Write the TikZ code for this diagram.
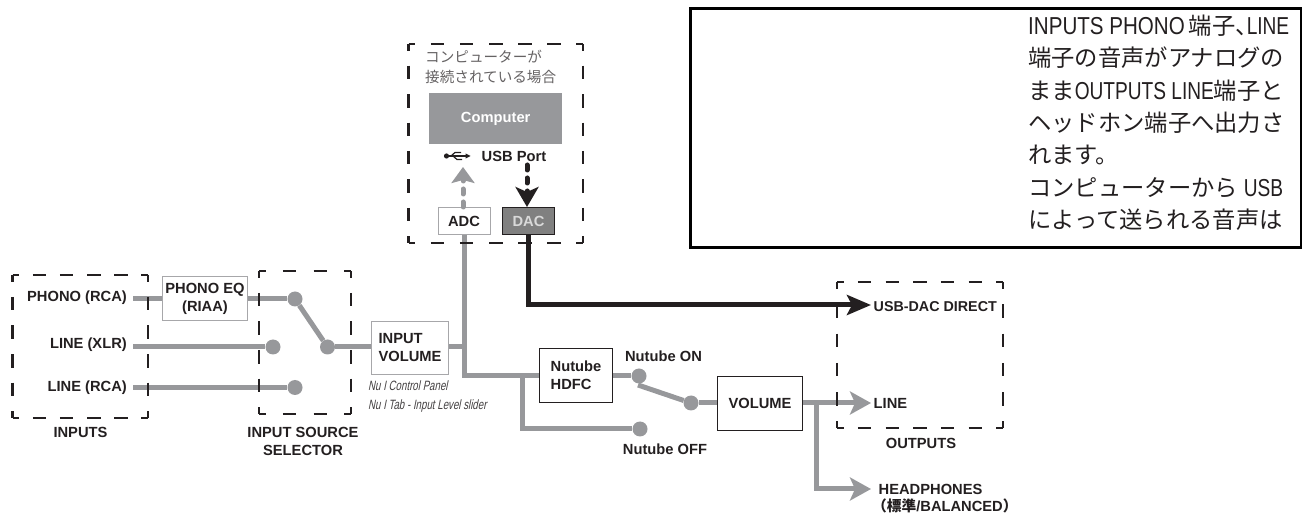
\documentclass[tikz,border=0pt]{standalone}
\usepackage{fontspec}
\setmainfont{Liberation Sans}
\newfontfamily\cjk{Noto Sans CJK JP}
\newfontfamily\cjkb[UprightFont={Noto Sans CJK JP Bold}]{Noto Sans CJK JP}
\newfontfamily\narrowlat[FakeStretch=0.84]{Liberation Sans}
\newfontfamily\narrowlatb[FakeStretch=0.78]{Liberation Sans}
\newfontfamily\narrowit[FakeStretch=0.72,FakeSlant=0.2]{Liberation Sans}
\usetikzlibrary{arrows.meta}
\definecolor{sig}{HTML}{97989B}
\definecolor{ink}{HTML}{231F20}
\newcommand{\latn}[1]{{\narrowlat\fontsize{24.5}{32.4}\selectfont #1}}
\newcommand{\latnb}[1]{{\narrowlatb\fontsize{24.5}{32.4}\selectfont #1}}
% dashed rectangle: each side has half a dash at both ends, so the corners stay closed
\newcommand{\dashside}[3]{%
  \pgfmathsetmacro{\dashper}{#3}%
  \pgfmathsetmacro{\dashoff}{\dashper-13.5}%
  \draw[dashbox,dash pattern=on 13.5pt off \dashoff pt,dash phase=6.75pt] #1 -- #2;}
\newcommand{\dashrect}[6]{%
  \dashside{(#1,#2)}{(#3,#2)}{(#3-#1)/#5}%
  \dashside{(#1,#4)}{(#3,#4)}{(#3-#1)/#5}%
  \dashside{(#1,#2)}{(#1,#4)}{(#4-#2)/#6}%
  \dashside{(#3,#2)}{(#3,#4)}{(#4-#2)/#6}}
\tikzset{
  lab/.style={font=\fontsize{14.7}{18}\bfseries\selectfont,text=ink,align=center,inner sep=0pt},
  rlab/.style={lab,anchor=east,inner ysep=0pt,inner xsep=6pt},
  llab/.style={lab,anchor=west,align=left},
  grayline/.style={draw=sig,line width=5pt},
  blackline/.style={draw=ink,line width=5pt},
  ghead/.style={-{Stealth[length=21pt,width=23pt,inset=5pt,fill=sig]}},
  bhead/.style={-{Stealth[length=24pt,width=20pt,inset=5pt,fill=ink]}},
  gshort/.style={-{Stealth[length=16pt,width=23pt,inset=3pt,fill=sig]}},
  bshort/.style={-{Stealth[length=20pt,width=23pt,inset=5pt,fill=ink]}},
  dot/.style={circle,fill=sig,minimum size=15pt,inner sep=0pt},
  graybox/.style={draw=sig!85,line width=1pt,fill=white,lab,inner sep=0pt},
  blackbox/.style={draw=ink,line width=1pt,fill=white,lab,inner sep=0pt},
  dashbox/.style={draw=ink,line width=2.3pt},
  note/.style={font=\fontsize{13.5}{18.8}\narrowit\selectfont,text=ink!85,align=left,anchor=north west,inner sep=0pt},
}
\begin{document}
\begin{tikzpicture}[x=1pt,y=-1pt]
\useasboundingbox (0,0) rectangle (1302,518);
% text frame
\node[draw=black,line width=3pt,fill=white,minimum width=610.5pt,minimum height=239pt,anchor=north west,inner sep=0pt] (frame) at (689,7.5) {};
\node[anchor=north west,inner sep=0pt,align=left,font=\fontsize{23.3}{32.4}\cjk\selectfont,text=ink] (body) at (1028,14.5) {%
\latn{INPUTS PHONO}\kern4pt 端子、\kern-12pt\latnb{LINE}\\
端子の音声がアナログの\\
まま\latnb{OUTPUTS LINE}端子と\\
ヘッドホン端子へ出力さ\\
れます。\\
コンピューターから\kern6pt\latnb{USB}\\
によって送られる音声は};

% boxes
\node[graybox,minimum width=85pt,minimum height=44pt,anchor=north west] (eq) at (162,276.5) {PHONO EQ\\(RIAA)};
\node[graybox,minimum width=77pt,minimum height=53pt,anchor=north west,align=left] (ivol) at (371,321) {INPUT\\VOLUME};
\node[blackbox,minimum width=73pt,minimum height=54pt,anchor=north west,align=left] (hdfc) at (539,348) {Nutube\\HDFC};
\node[blackbox,minimum width=85pt,minimum height=54pt,anchor=north west] (vol) at (717,376) {VOLUME};
\node[anchor=north west,fill=sig,minimum width=133pt,minimum height=51pt,inner sep=0pt,lab,text=white] (comp) at (429,93) {Computer};
\node[graybox,minimum width=52pt,minimum height=27pt,anchor=north west] (adc) at (437.5,207) {ADC};
\node[draw=ink,line width=1pt,fill=black!50,lab,text=white!85!black,minimum width=52pt,minimum height=27pt,anchor=north west] (dac) at (502,207) {DAC};

% labels
\node[rlab] (lphono) at (133,297.5) {PHONO (RCA)};
\node[rlab] (lxlr) at (133,345) {LINE (XLR)};
\node[rlab] (lrca) at (133,387.5) {LINE (RCA)};
\node[lab] (linputs) at (80.5,432) {INPUTS};
\node[lab] (lsel) at (303,441) {INPUT SOURCE\\SELECTOR};
\node[lab] (lon) at (663.5,356) {Nutube ON};
\node[lab] (loff) at (665,449) {Nutube OFF};
\node[lab] (lout) at (921,443) {OUTPUTS};
\node[llab,font=\fontsize{14.3}{18}\bfseries\selectfont] (ldirect) at (873.5,306.5) {USB-DAC DIRECT};
\node[llab] (lline) at (873.5,403.5) {LINE};
\node[llab] (lhead) at (878.5,489.5) {HEADPHONES};
\node[lab,anchor=west] (lbal) at (872,505.5) {{\cjkb （標準}/BALANCED{\cjkb ）}};
\node[lab] (lusb) at (514,156) {USB Port};
\node[inner sep=0pt,anchor=north west,align=left,font=\fontsize{14.6}{19.5}\cjk\selectfont,text=ink!70] (lcomp) at (425,50) {コンピューターが\\接続されている場合};
\node[note] (lnote) at (368,381) {Nu I Control Panel\\Nu I Tab - Input Level slider};

% named points
\node[dot] (d1) at (295,299) {};
\node[dot] (d2) at (273,347) {};
\node[dot] (d3) at (295,387.5) {};
\node[dot] (d4) at (327.5,347) {};
\node[dot] (d5) at (639,376) {};
\node[dot] (d6) at (640,429) {};
\node[dot] (d7) at (691,403) {};
\coordinate (j1) at (464,347);
\coordinate (j2) at (464,375.5);
\coordinate (j3) at (522,375.5);
\coordinate (j4) at (522,429);
\coordinate (j5) at (816,403);
\coordinate (j6) at (816,489);
\coordinate (sw) at (638,385);
\coordinate (tline) at (871,403);
\coordinate (thead) at (871,489);
\coordinate (tdirect) at (871,305);
\coordinate (j7) at (528,305);
\coordinate (usbadc) at (463,167);
\coordinate (usbdac) at (527,165);

% connectors
\draw[grayline] (lphono.east |- d1) -- (eq.west |- d1);
\draw[grayline] (eq.east |- d1) -- (d1);
\draw[grayline] (lxlr.east |- d2) -- (d2);
\draw[grayline] (lrca.east) -- (d3);
\draw[grayline] (d1) -- (d4);
\draw[grayline] (d4) -- (ivol.west |- d4);
\draw[grayline] (ivol.east |- j1) -- (j1);
\draw[grayline,line join=miter] (adc.south -| j1) -- (j2) -- (hdfc.west |- j2);
\draw[grayline,line join=miter] (j3) -- (j4) -- (d6);
\draw[grayline] (hdfc.east |- d5) -- (d5);
\draw[grayline] (sw) -- (d7);
\draw[grayline] (d7) -- (vol.west |- d7);
\draw[grayline,ghead] (vol.east |- j5) -- (tline);
\draw[grayline,ghead,line join=miter] (j5) -- (j6) -- (thead);
\draw[blackline,bhead,line join=miter] (dac.south -| j7) -- (j7) -- (tdirect);
\draw[grayline,gshort,dash pattern=on 5pt off 8pt,line cap=round] (adc.north -| usbadc) -- (usbadc);
\draw[blackline,bshort,dash pattern=on 5pt off 8pt,line cap=round] (usbdac) -- (dac.north -| usbdac);

% USB symbol
\fill[ink] (446.5,156) circle (2.6pt);
\draw[ink,line width=1.2pt] (446.5,156) -- (467,156);
\fill[ink] (470.5,156) -- (465.5,153.4) -- (465.5,158.6) -- cycle;
\draw[ink,line width=1.2pt] (451,156) -- (455,152.5) -- (461,152.5);
\draw[ink,line width=1.2pt] (453,156) -- (457,159.5) -- (462,159.5);

% dashed enclosures
\dashrect{12.5}{275}{148}{418}{5}{5}
\dashrect{259}{271}{351}{414}{3}{5}
\dashrect{408.5}{44}{583}{243}{6}{7}
\dashrect{837}{282}{1003}{428}{6}{5}
\end{tikzpicture}
\end{document}
